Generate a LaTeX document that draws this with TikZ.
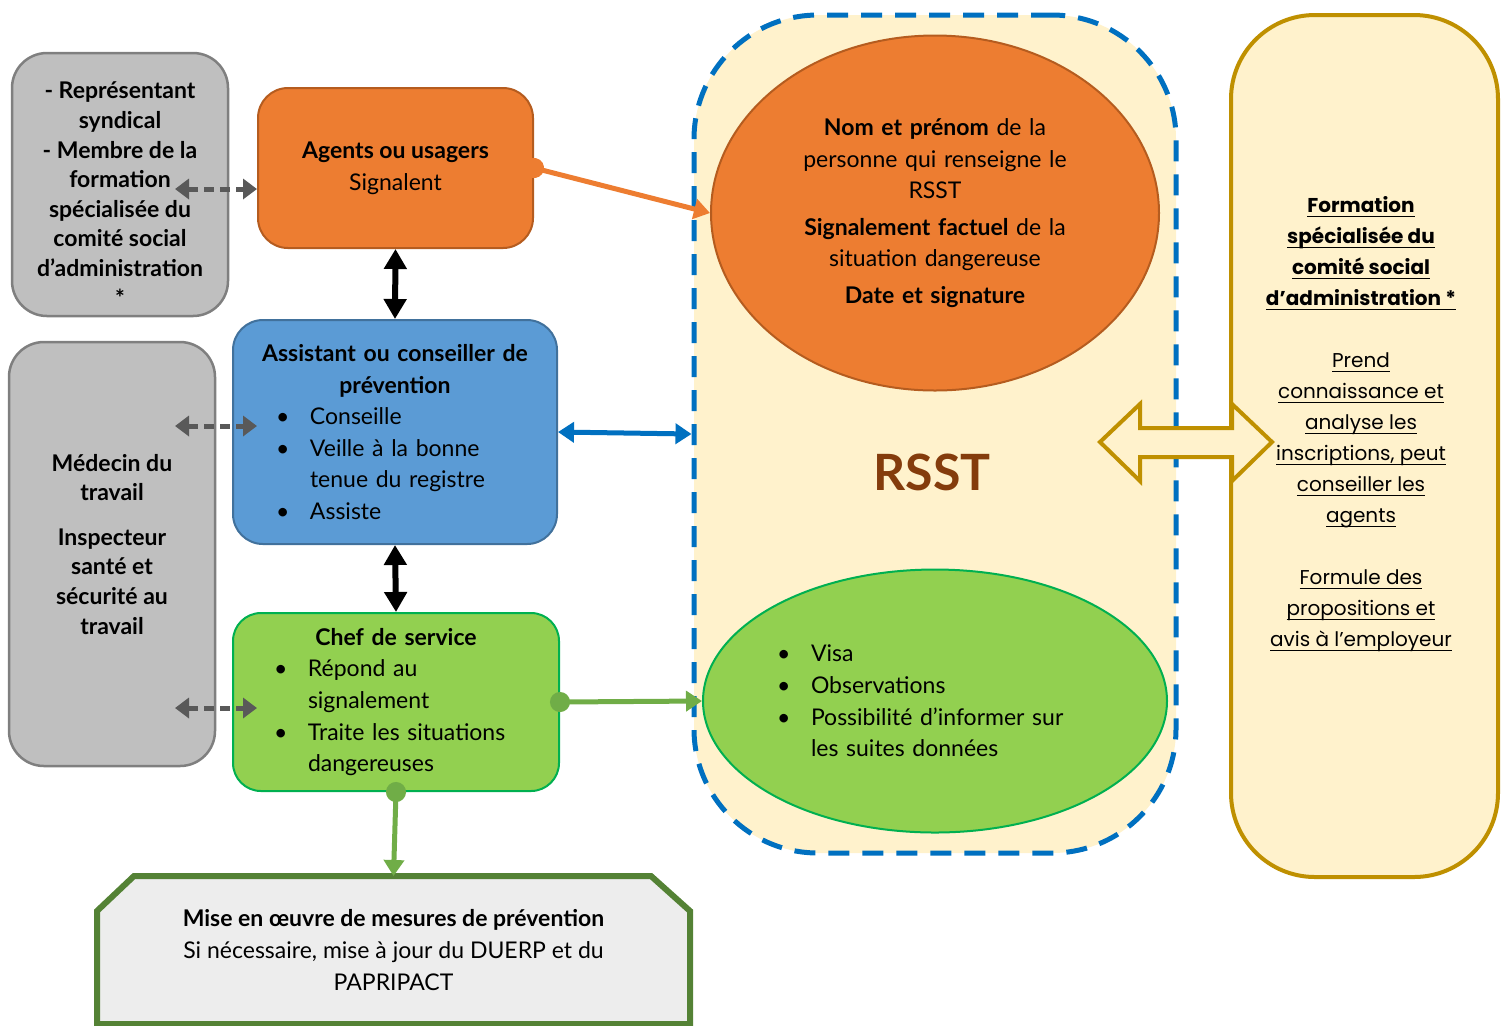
\documentclass[tikz,border=0pt]{standalone}
\usepackage{fontspec}
\setmainfont{Lato}
\newfontfamily\gothique{Poppins}
\usetikzlibrary{arrows.meta,shapes.geometric,backgrounds}

\definecolor{grisfond}{HTML}{BFBFBF}
\definecolor{grisbord}{HTML}{7F7F7F}
\definecolor{grisfleche}{HTML}{595959}
\definecolor{orangefond}{HTML}{ED7D31}
\definecolor{orangebord}{HTML}{B55C1F}
\definecolor{bleufond}{HTML}{5B9BD5}
\definecolor{bleubord}{HTML}{41719C}
\definecolor{bleufort}{HTML}{0070C0}
\definecolor{vertfond}{HTML}{92D050}
\definecolor{vertbord}{HTML}{00B050}
\definecolor{vertfleche}{HTML}{70AD47}
\definecolor{vertfonce}{HTML}{548235}
\definecolor{jaunefond}{HTML}{FFF2CC}
\definecolor{ocre}{HTML}{BF9000}
\definecolor{brunrsst}{HTML}{843C0C}
\definecolor{grisclair}{HTML}{EDEDED}

\newcommand\puce{\makebox[17pt][l]{\textbullet}}
\newcommand\suite{\hspace*{17pt}}
\newsavebox\soulbox
\newcommand\souligne[1]{\sbox\soulbox{#1}\rlap{\rule[-2.4pt]{\wd\soulbox}{0.7pt}}\usebox\soulbox}

\tikzset{
  boite/.style={inner sep=0pt, line width=1pt, font=\fontsize{11.5}{15.8}\selectfont},
  gris/.style={boite, rounded corners=17.5pt, fill=grisfond, draw=grisbord,
    line width=1.25pt, align=center, font=\fontsize{11.5}{14.8}\selectfont\bfseries},
  agent/.style={boite, rounded corners=15pt, fill=orangefond, draw=orangebord, align=center},
  preventeur/.style={boite, rounded corners=15pt, fill=bleufond, draw=bleubord, align=left},
  chefbox/.style={boite, rounded corners=14pt, fill=vertfond, draw=vertbord, align=left},
  rsstcadre/.style={rounded corners=62pt, fill=jaunefond, draw=bleufort, line width=2.5pt,
    dash pattern=on 10.5pt off 6.5pt},
  ellorange/.style={boite, ellipse, fill=orangefond, draw=orangebord, align=center},
  ellvert/.style={boite, ellipse, fill=vertfond, draw=vertbord, align=left},
  fsbox/.style={rounded corners=42pt, fill=jaunefond, draw=ocre, line width=2pt},
  pointille/.style={draw=grisfleche, line width=2.5pt, dash pattern=on 5pt off 3pt,
    {Triangle[width=10pt,length=7pt]}-{Triangle[width=10pt,length=7pt]}},
  noire/.style={line width=3pt, {Triangle[width=11pt,length=10pt]}-{Triangle[width=11pt,length=10pt]}},
  bleue/.style={draw=bleufort, line width=2.5pt,
    {Triangle[width=10pt,length=8pt]}-{Triangle[width=10pt,length=8pt]}},
  pointee/.style={line width=2.5pt, shorten <=-5pt,
    {Circle[length=10pt]}-{Triangle[width=10pt,length=8pt]}},
}

\begin{document}
\begin{tikzpicture}[x=0.5pt,y=-0.5pt]
\useasboundingbox (0,0) rectangle (1510,1025);

% registre
\node[rsstcadre, minimum width=241pt, minimum height=419pt] (rsst) at (935,434) {};
\node[ellorange, minimum width=224pt, minimum height=177.5pt, text width=140pt] (nom) at (935,213)
  {\textbf{Nom et prénom} de la\\ personne qui renseigne le\\ RSST\\[2.5pt]
   \textbf{Signalement factuel} de la\\ situation dangereuse\\[2.5pt]
   \textbf{Date et signature}};
\node[font=\fontsize{25}{30}\selectfont\bfseries, text=brunrsst] (titre) at (932,472) {RSST};
\node[ellvert, minimum width=232pt, minimum height=131.5pt, text width=158pt] (visa) at (935,701)
  {\puce Visa\\ \puce Observations\\ \puce Possibilité d’informer sur\\ \suite les suites données};

% formation specialisee
\node[fsbox, minimum width=133.5pt, minimum height=431pt] (fs) at (1364.5,446) {};
\node[align=center, font=\gothique\fontsize{10}{15.5}\selectfont] (fstxt) at (1361,424)
  {\textbf{\souligne{Formation}}\\ \textbf{\souligne{spécialisée du}}\\ \textbf{\souligne{comité social}}\\
   \textbf{\souligne{d’administration *}}\\[15.5pt]
   \souligne{Prend}\\ \souligne{connaissance et}\\ \souligne{analyse les}\\ \souligne{inscriptions, peut}\\
   \souligne{conseiller les}\\ \souligne{agents}\\[15.5pt]
   \souligne{Formule des}\\ \souligne{propositions et}\\ \souligne{avis à l’employeur}};
\draw[fill=jaunefond, draw=ocre, line width=2pt] (1100,442) -- (1140,404) -- (1140,428) -- (1232,428)
  -- (1232,404) -- (1272,442) -- (1232,481) -- (1232,457) -- (1140,457) -- (1140,481) -- cycle;

% acteurs
\node[gris, minimum width=108pt, minimum height=131.5pt] (rep) at (120,184.5)
  {\rule{0pt}{18pt}- Représentant\\ syndical\\ - Membre de la\\ formation\\ spécialisée du\\ comité social\\ d’administration\\ *};
\node[gris, minimum width=103pt, minimum height=212pt] (med) at (112,554)
  {Médecin du\\ travail\\[7.5pt] Inspecteur\\ santé et\\ sécurité au\\ travail\rule[-10pt]{0pt}{0pt}};
\node[agent, minimum width=137.5pt, minimum height=80pt] (ag) at (395.5,168)
  {\textbf{Agents ou usagers}\\ Signalent};
\node[preventeur, minimum width=162pt, minimum height=112pt, text width=119pt] (apc) at (395,432)
  {\makebox[\linewidth]{\textbf{Assistant ou conseiller de}}\\ \makebox[\linewidth]{\textbf{prévention}}\\
   \puce Conseille\\ \puce Veille à la bonne\\ \suite tenue du registre\\ \puce Assiste};
\node[chefbox, minimum width=163pt, minimum height=89pt, text width=122pt] (chef) at (396,702)
  {\makebox[\linewidth]{\textbf{Chef de service}}\\ \puce Répond au\\ \suite signalement\\
   \puce Traite les situations\\ \suite dangereuses};
\node[boite, minimum width=295.5pt, minimum height=73pt, align=center] (mise) at (393.5,950)
  {\textbf{Mise en œuvre de mesures de prévention}\\ Si nécessaire, mise à jour du DUERP et du\\ PAPRIPACT};
\begin{scope}[on background layer]
\draw[fill=grisclair, draw=vertfonce, line width=3pt, line join=miter] (mise.south west)
  -- ([yshift=-17.5pt]mise.north west) -- ([xshift=18.5pt]mise.north west)
  -- ([xshift=-19.5pt]mise.north east) -- ([yshift=-17.5pt]mise.north east)
  -- (mise.south east) -- cycle;
\end{scope}

% liens
\coordinate (p1) at (175,189);
\coordinate (p2) at (175,426);
\coordinate (p3) at (175,708);
\draw[pointille] (p1) -- ([yshift=-10.5pt]ag.west);
\draw[pointille] (p2) -- ([xshift=12.5pt,yshift=3pt]apc.west);
\draw[pointille] (p3) -- ([xshift=12.5pt,yshift=-3pt]chef.west);
\draw[noire] (ag.south) -- (apc.north);
\draw[noire] (apc.south) -- (chef.north);
\draw[bleue] (apc.east) -- (rsst.west);
\draw[pointee, draw=orangefond, fill=orangefond] (ag.east) -- (nom.west);
\draw[pointee, draw=vertfleche, fill=vertfleche] (chef.east) -- (visa.west);
\draw[pointee, draw=vertfleche, fill=vertfleche] (chef.south) -- (mise.north);
\end{tikzpicture}
\end{document}
